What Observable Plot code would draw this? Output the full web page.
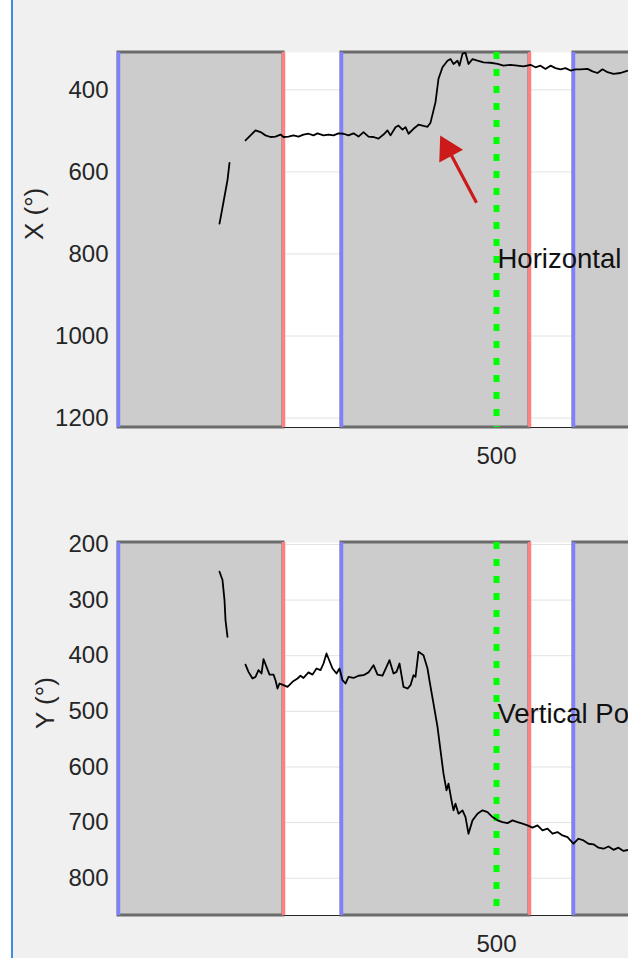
<!DOCTYPE html>
<html><head><meta charset="utf-8">
<script src="https://cdn.jsdelivr.net/npm/d3@7"></script>
<script src="https://cdn.jsdelivr.net/npm/@observablehq/plot@0.6"></script>
<style>
html,body{margin:0;padding:0;background:#f0f0f0;width:628px;height:958px;overflow:hidden;}
#wrap{position:relative;width:628px;height:958px;}
#charts svg{display:block;}
#edge{position:absolute;left:0;top:0;width:11px;height:958px;background:#ffffff;z-index:2;}
#edgeLine{position:absolute;left:11px;top:0;width:2px;height:958px;background:#3a8ee6;z-index:2;}
</style></head>
<body><div id="wrap"><div id="charts"></div><div id="edge"></div><div id="edgeLine"></div></div>
<script>
// ---- shared time axis ----
const timeDomain = [122, 632];
const xTickValues = [500];
const blockStart = [122, 345, 577];
const blockEnd = [287, 533, 700];
const eventTime = [500];

// ---- top panel: horizontal position X (°) ----
const topYDomain = [309, 1223];
const topYTicks = [400, 600, 800, 1000, 1200];
const topShortT = [233, 231, 228, 225, 223];
const topShortV = [578, 620, 660, 700, 726];
const topT = [249,254,259,264,269,274,279,284,287,292,297,302,307,312,317,321,327,332,337,342,347,352,357,362,367,372,377,382,387,391,394,399,402,406,409,412,417,422,427,431,434,437,439,442,446,451,454,457,461,463,466,469,472,476,481,487,494,501,507,514,521,527,534,539,544,549,554,559,564,569,574,579,584,591,596,601,606,611,617,624,629,632];
const topV = [523,511,499,503,511,515,514,509,515,514,511,514,509,507,511,506,511,509,511,506,507,511,506,514,503,514,515,519,509,499,511,491,487,497,491,507,495,485,488,490,480,450,430,373,345,329,325,337,329,341,312,310,337,325,329,333,334,337,341,339,341,343,339,345,341,349,341,347,350,347,353,350,350,349,355,359,350,357,361,359,355,353];
const topLabel = ["Horizontal Position"];
const topLabelT = [500];
const topLabelV = [812];
const topYLabel = "X (°)";

// arrow annotation (top panel)
const arrowTailT = [480], arrowTailV = [675];
const arrowNeckT = [455], arrowNeckV = [560];
const arrowHeadT = [451], arrowHeadV = [545];
const arrowAngle = -28;

// ---- bottom panel: vertical position Y (°) ----
const bottomYDomain = [196.5, 867];
const bottomYTicks = [200, 300, 400, 500, 600, 700, 800];
const bottomShortT = [223, 226, 228, 229, 231];
const bottomShortV = [249, 264, 300, 336, 366];
const bottomT = [249,252,256,259,262,265,267,270,273,277,279,281,283,287,291,296,301,304,307,312,316,320,324,327,330,332,336,340,343,346,349,352,357,362,367,372,377,381,386,390,393,397,400,403,407,411,414,417,419,422,427,431,433,437,441,444,447,450,452,455,457,459,462,466,469,472,476,481,486,491,496,501,506,511,516,521,526,531,536,541,546,551,556,561,566,571,577,582,587,592,597,602,607,612,617,622,627,632];
const bottomV = [416,429,441,438,426,432,406,420,434,434,444,459,450,453,456,447,441,436,440,430,434,423,426,414,396,405,423,432,423,444,450,438,440,436,435,430,417,434,436,420,408,432,429,414,456,459,453,435,438,393,399,423,445,486,528,570,612,642,630,660,678,666,684,678,690,720,696,684,678,681,690,696,699,701,696,699,702,705,709,705,714,711,720,717,723,726,738,729,732,738,739,745,747,743,749,745,751,749];
const bottomLabel = ["Vertical Position"];
const bottomLabelT = [500];
const bottomLabelV = [506];
const bottomYLabel = "Y (°)";

const FONT = "'Liberation Sans', Arial, Helvetica, sans-serif";
const INK = "#262626";

function pts(T, V) { return T.map((t, i) => ({t, v: V[i]})); }

function panel(o) {
  const blocks = blockStart.map((s, i) => ({s, e: blockEnd[i]}));
  const marks = [
    Plot.frame({fill: "white", stroke: null}),
    Plot.gridY(o.yTicks, {stroke: "#e2e2e2", strokeOpacity: 1, strokeWidth: 1}),
    Plot.ruleY([o.yDomain[1]], {stroke: INK, strokeWidth: 1}),
    Plot.rect(blocks, {x1: "s", x2: "e", fill: "#cccccc", stroke: "#6b6b6b", strokeWidth: 3}),
    Plot.ruleX(blockStart, {stroke: "#8080ff", strokeWidth: 3.5}),
    Plot.ruleX(blockEnd, {stroke: "#ff8080", strokeWidth: 3.5}),
    Plot.ruleX(eventTime, {stroke: "#00ff00", strokeWidth: 6, strokeDasharray: "7,10"}),
    Plot.line(pts(o.shortT, o.shortV), {x: "t", y: "v", stroke: "#000", strokeWidth: 1.8}),
    Plot.line(pts(o.T, o.V), {x: "t", y: "v", stroke: "#000", strokeWidth: 1.8}),
    Plot.text(o.label.map((s, i) => ({s, t: o.labelT[i], v: o.labelV[i]})), {x: "t", y: "v", text: "s", textAnchor: "start", fontSize: 27.5, fill: "#111", dx: 1}),
  ];
  if (o.arrow) {
    marks.push(
      Plot.link(arrowTailT.map((t, i) => ({t1: t, v1: arrowTailV[i], t2: arrowNeckT[i], v2: arrowNeckV[i]})), {x1: "t1", y1: "v1", x2: "t2", y2: "v2", stroke: "#cc1a1a", strokeWidth: 3.2}),
      Plot.dot(pts(arrowHeadT, arrowHeadV), {x: "t", y: "v", symbol: "triangle", r: 10, rotate: arrowAngle, fill: "#cc1a1a", stroke: null})
    );
  }
  marks.push(
    Plot.axisX(xTickValues, {tickSize: 0, tickPadding: 19, fontSize: 24, label: null, tickFormat: d => String(d)}),
    Plot.axisY(o.yTicks, {tickSize: 0, tickPadding: 10, fontSize: 24, label: null, tickFormat: d => String(d)}),
    Plot.text([o.yLabel], {frameAnchor: "left", dx: o.yLabelDx, rotate: -90, fontSize: 26, fill: INK})
  );
  return Plot.plot({
    width: 628, height: o.height,
    marginLeft: 118, marginRight: 0, marginTop: o.marginTop, marginBottom: o.marginBottom,
    x: {domain: timeDomain},
    y: {domain: o.yDomain, reverse: true},
    style: {background: "transparent", fontFamily: FONT, fontSize: "24px", color: INK, overflow: "hidden"},
    marks
  });
}

const charts = document.getElementById("charts");
charts.append(panel({height: 480, marginTop: 52, marginBottom: 53, yDomain: topYDomain, yTicks: topYTicks,
  shortT: topShortT, shortV: topShortV, T: topT, V: topV, label: topLabel, labelT: topLabelT, labelV: topLabelV,
  yLabel: topYLabel, yLabelDx: -84, arrow: true}));
charts.append(panel({height: 478, marginTop: 62, marginBottom: 43, yDomain: bottomYDomain, yTicks: bottomYTicks,
  shortT: bottomShortT, shortV: bottomShortV, T: bottomT, V: bottomV, label: bottomLabel, labelT: bottomLabelT, labelV: bottomLabelV,
  yLabel: bottomYLabel, yLabelDx: -73, arrow: false}));
</script>
</body></html>
